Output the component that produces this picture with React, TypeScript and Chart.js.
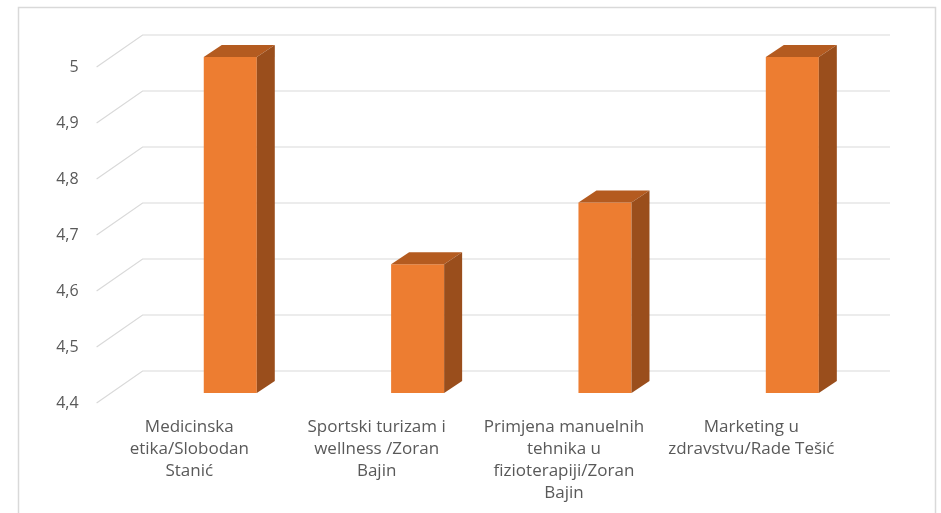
import React, { useEffect, useRef } from "react";
import { Chart, registerables } from "chart.js";

Chart.register(...registerables);

const categories: string[][] = [
  ["Medicinska", "etika/Slobodan", "Stanić"],
  ["Sportski turizam i", "wellness /Zoran", "Bajin"],
  ["Primjena manuelnih", "tehnika u", "fizioterapiji/Zoran", "Bajin"],
  ["Marketing u", "zdravstvu/Rade Tešić"],
];
const values: number[] = [5.0, 4.63, 4.74, 5.0];
const yMin = 4.4;
const yMax = 5.0;
const yStep = 0.1;

const FRONT = "#ED7D31";
const TOP = "#B45B20";
const SIDE = "#9A4E1C";
const GRID = "#d9d9d9";
const TEXT = "#595959";
const FONT = "'Open Sans', sans-serif";

const depthDX = 18;
const depthDY = -12;

const threeD = {
  id: "threeD",
  beforeDraw(chart: any) {
    const ctx = chart.ctx;
    ctx.save();
    ctx.strokeStyle = GRID;
    ctx.lineWidth = 1.5;
    ctx.strokeRect(18.5, 7.5, 917, 560);
    ctx.restore();
  },
  beforeDatasetsDraw(chart: any) {
    const ctx = chart.ctx;
    const y = chart.scales.y;
    const a = chart.chartArea;
    const backL = a.left + 6;
    const backR = a.right + 4;
    const frontL = a.left - 40;
    ctx.save();
    ctx.strokeStyle = GRID;
    ctx.lineWidth = 1.2;
    y.ticks.forEach((t: any) => {
      const py = Math.round(y.getPixelForValue(t.value));
      ctx.beginPath();
      ctx.moveTo(frontL, py + 10);
      ctx.lineTo(backL, py - 22);
      ctx.lineTo(backR, py - 22);
      ctx.stroke();
    });
    ctx.restore();
  },
  afterDatasetsDraw(chart: any) {
    const ctx = chart.ctx;
    const meta = chart.getDatasetMeta(0);
    const bottom = chart.chartArea.bottom;
    ctx.save();
    meta.data.forEach((bar: any) => {
      const { x, y, base, width } = bar.getProps(["x", "y", "base", "width"], true);
      const b = Math.min(base, bottom);
      const l = x - width / 2;
      const r = x + width / 2;
      ctx.fillStyle = TOP;
      ctx.beginPath();
      ctx.moveTo(l, y);
      ctx.lineTo(l + depthDX, y + depthDY);
      ctx.lineTo(r + depthDX, y + depthDY);
      ctx.lineTo(r, y);
      ctx.closePath();
      ctx.fill();
      ctx.fillStyle = SIDE;
      ctx.beginPath();
      ctx.moveTo(r, y);
      ctx.lineTo(r + depthDX, y + depthDY);
      ctx.lineTo(r + depthDX, b + depthDY);
      ctx.lineTo(r, b);
      ctx.closePath();
      ctx.fill();
    });
    ctx.restore();
  },
};

export default function App() {
  const ref = useRef<HTMLCanvasElement | null>(null);
  useEffect(() => {
    if (!ref.current) return;
    const chart = new Chart(ref.current, {
      type: "bar",
      data: {
        labels: categories,
        datasets: [
          {
            data: values,
            backgroundColor: FRONT,
            borderWidth: 0,
            categoryPercentage: 1,
            barPercentage: 0.283,
          },
        ],
      },
      options: {
        animation: false,
        responsive: false,
        maintainAspectRatio: false,
        layout: { padding: { left: 0, right: 55, top: 57, bottom: 0 } },
        plugins: { legend: { display: false }, tooltip: { enabled: false } },
        scales: {
          x: {
            grid: { display: false, drawTicks: false },
            border: { display: false },
            ticks: {
              color: TEXT,
              font: { family: FONT, size: 17, lineHeight: 1.3 },
              labelOffset: -41,
              padding: 23,
              maxRotation: 0,
              autoSkip: false,
            },
            afterFit: (s: any) => {
              s.height = 120;
              s.paddingLeft = 0;
              s.paddingRight = 0;
            },
          },
          y: {
            min: yMin,
            max: yMax,
            grid: { display: false, drawTicks: false },
            border: { display: false },
            ticks: {
              stepSize: yStep,
              color: TEXT,
              font: { family: FONT, size: 16 },
              padding: 58,
              labelOffset: 10,
              callback: (v: any) => String(Math.round(Number(v) * 10) / 10).replace(".", ","),
            },
            afterFit: (s: any) => {
              s.width = 136.6;
              s.paddingTop = 0;
              s.paddingBottom = 0;
            },
          },
        },
      },
      plugins: [threeD],
    });
    return () => chart.destroy();
  }, []);
  return (
    <div style={{ position: "fixed", left: 0, top: 0, width: 941, height: 513, background: "#fff" }}>
      <canvas ref={ref} width={941} height={513} style={{ display: "block" }} />
    </div>
  );
}
